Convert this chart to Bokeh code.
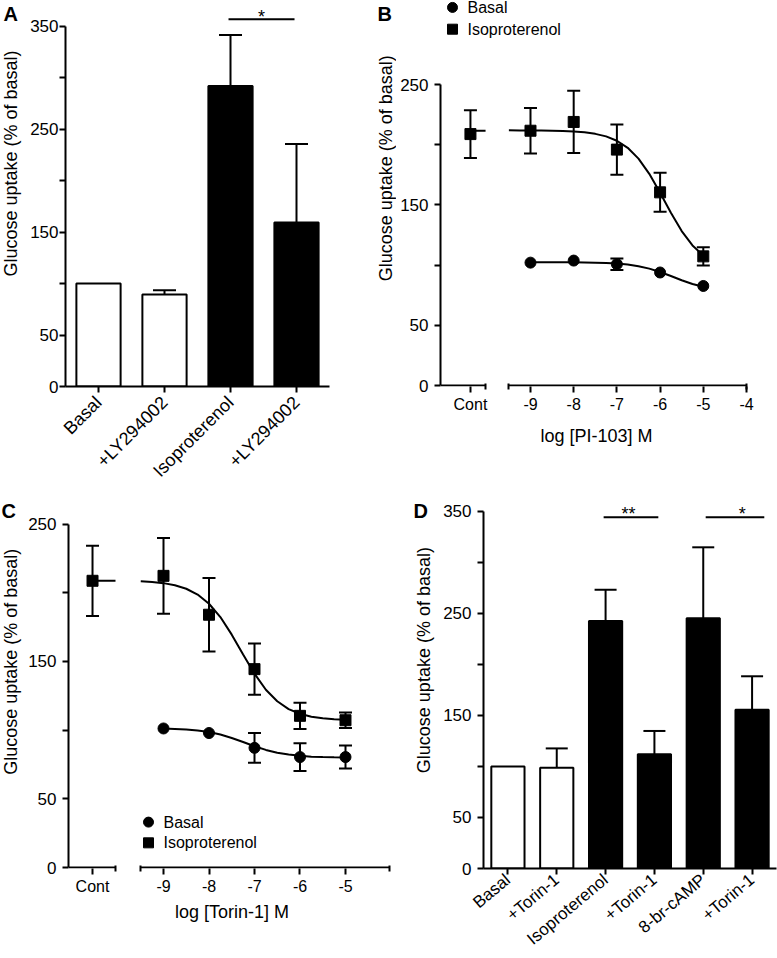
import math
from bokeh.plotting import figure
from bokeh.layouts import row, column
from bokeh.models import FixedTicker, Whisker, TeeHead, ColumnDataSource, Range1d
from bokeh.core.properties import value
from bokeh.embed import file_html
from bokeh.resources import INLINE

FONT = "Liberation Sans"

# ---------------- data ----------------
Y_TITLE = "Glucose uptake (% of basal)"
LEGEND_LABELS = ["Basal", "Isoproterenol"]

# Panel A
a_labels = ["Basal", "+LY294002", "Isoproterenol", "+LY294002"]
a_means = [100.0, 89.5, 292.0, 159.5]
a_sem = [0.0, 4.0, 49.6, 76.2]
a_colors = ["white", "white", "black", "black"]
a_sig = [(1.97, 2.97, 2.47, "*")]          # line from, line to, star x, text
a_yticks = [0, 50, 100, 150, 200, 250, 300, 350]
a_ytick_labels = ["0", "50", "", "150", "", "250", "", "350"]

# Panel B (PI-103)
b_doses = [-9, -8, -7, -6, -5]
b_basal = [102.1, 103.8, 100.8, 93.9, 82.7]
b_basal_sem = [0, 0, 4.8, 0, 0]
b_iso = [211.7, 219.0, 196.0, 160.5, 107.3]
b_iso_sem = [18.9, 25.9, 20.9, 16.2, 7.5]
b_cont_iso = 208.9
b_cont_iso_sem = 19.9
b_cont_fit = 211.7
fit_x_iso = [-9.5, -9.25, -9.0, -8.75, -8.5, -8.25, -8.0, -7.75, -7.5, -7.25,
             -7.0, -6.75, -6.5, -6.25, -6.0, -5.75, -5.5, -5.25, -5.0]
fit_x_basal = [-9.0, -8.75, -8.5, -8.25, -8.0, -7.75, -7.5, -7.25,
               -7.0, -6.75, -6.5, -6.25, -6.0, -5.75, -5.5, -5.25, -5.0]
b_fit_iso = [212.0, 211.9, 211.9, 211.8, 211.7, 211.5, 211.1, 210.4, 209.1, 207.0,
             203.4, 197.5, 188.5, 175.9, 160.2, 143.5, 128.3, 116.4, 108.1]
b_fit_basal = [102.5, 102.5, 102.5, 102.4, 102.4, 102.3, 102.1, 101.8,
               101.3, 100.5, 99.1, 97.1, 94.3, 91.0, 87.5, 84.4, 82.1]
b_xtick_vals = [-9, -8, -7, -6, -5, -4]
b_xtick_labels = ["Cont", "-9", "-8", "-7", "-6", "-5", "-4"]
b_xtitle = "log [PI-103] M"

# Panel C (Torin-1)
c_doses = [-9, -8, -7, -6, -5]
c_basal = [101.2, 97.9, 87.1, 80.4, 80.4]
c_basal_sem = [0, 0, 10.8, 10.1, 8.4]
c_iso = [212.3, 184.0, 144.4, 110.4, 107.2]
c_iso_sem = [27.6, 26.7, 18.6, 9.6, 5.6]
c_cont_iso = 208.7
c_cont_iso_sem = 25.6
c_cont_fit = 208.7
c_fit_iso = [208.4, 207.9, 207.0, 205.5, 202.9, 198.7, 192.0, 182.3, 169.5, 155.1,
             141.1, 129.4, 121.0, 115.3, 111.9, 109.8, 108.6, 107.9, 107.5]
c_fit_basal = [101.2, 100.9, 100.5, 99.7, 98.6, 96.8, 94.3, 91.4,
               88.3, 85.6, 83.6, 82.2, 81.3, 80.7, 80.4, 80.2, 80.1]
c_xtick_vals = [-9, -8, -7, -6, -5]
c_xtick_labels = ["Cont", "-9", "-8", "-7", "-6", "-5"]
c_xtitle = "log [Torin-1] M"

bc_yticks = [0, 50, 100, 150, 200, 250]
bc_ytick_labels = ["0", "50", "", "150", "", "250"]

# Panel D
d_labels = ["Basal", "+Torin-1", "Isoproterenol", "+Torin-1", "8-br-cAMP", "+Torin-1"]
d_means = [100.0, 98.7, 242.6, 111.9, 245.2, 155.5]
d_sem = [0.0, 19.0, 30.6, 22.9, 69.6, 32.9]
d_colors = ["white", "white", "black", "black", "black", "black"]
d_sig = [(1.96, 3.08, 2.47, "**"), (4.05, 5.25, 4.80, "*")]
d_yticks = a_yticks
d_ytick_labels = a_ytick_labels

# ---------------- layout (page pixels) ----------------
TOP_Y, TOP_H = 0, 490
BOT_Y, BOT_H = 490, 468


def make_fig(canvas, frame, xr, yr):
    cl, ct, w, h = canvas
    fl, fr, ft, fb = frame
    p = figure(width=w, height=h, x_range=Range1d(*xr), y_range=Range1d(*yr),
               output_backend="svg", toolbar_location=None,
               min_border_left=fl - cl, min_border_right=cl + w - fr,
               min_border_top=ft - ct, min_border_bottom=ct + h - fb)
    p.outline_line_color = None
    p.xgrid.visible = False
    p.ygrid.visible = False
    p.background_fill_color = "white"
    p.border_fill_color = "white"

    def gx(px):
        return xr[0] + (px - fl) * (xr[1] - xr[0]) / (fr - fl)

    def gy(py):
        return yr[0] + (fb - py) * (yr[1] - yr[0]) / (fb - ft)
    return p, gx, gy


def strip(w, h, letter, letter_xy, title_xy):
    """Narrow figure holding the panel letter and the rotated y-axis title."""
    p = figure(width=w, height=h, x_range=Range1d(0, w), y_range=Range1d(0, h),
               x_axis_type=None, y_axis_type=None, min_border=0,
               output_backend="svg", toolbar_location=None)
    p.outline_line_color = None
    p.background_fill_color = "white"
    p.border_fill_color = "white"
    p.text(x=[letter_xy[0]], y=[h - letter_xy[1]], text=[letter],
           text_font=value(FONT), text_font_size=value("20px"),
           text_font_style="bold", text_align="left", text_baseline="alphabetic",
           text_color="black")
    p.text(x=[title_xy[0]], y=[h - title_xy[1]], text=[Y_TITLE], angle=math.pi / 2,
           text_font=value(FONT), text_font_size=value("18px"), text_align="center",
           text_baseline="middle", text_color="black")
    return p


def style_axis(ax, size="17px", standoff=3):
    ax.axis_line_width = 2
    ax.axis_line_color = "black"
    ax.major_tick_line_width = 2
    ax.major_tick_line_color = "black"
    ax.major_tick_out = 6
    ax.major_tick_in = 0
    ax.minor_tick_line_color = None
    ax.major_label_text_font = FONT
    ax.major_label_text_font_size = size
    ax.major_label_text_color = "black"
    ax.major_label_standoff = standoff


def bar_panel(canvas, frame, xr, yr, labels, means, sem, colors, yticks, ylabels,
              sig, sig_y, star_y, bar_w, cap, xlab_size, xlab_standoff, xlab_angle,
              ylab_standoff):
    p, gx, gy = make_fig(canvas, frame, xr, yr)
    xs = list(range(len(labels)))
    p.vbar(x=xs, top=means, bottom=0, width=bar_w, fill_color=colors,
           line_color="black", line_width=2)
    ex = [x for x, s in zip(xs, sem) if s > 0]
    elo = [m for m, s in zip(means, sem) if s > 0]
    ehi = [m + s for m, s in zip(means, sem) if s > 0]
    src = ColumnDataSource(dict(x=ex, lower=elo, upper=ehi))
    p.add_layout(Whisker(source=src, base="x", lower="lower", upper="upper",
                         line_width=2, line_color="black", lower_head=None,
                         upper_head=TeeHead(size=cap, line_width=2, line_color="black")))
    for x0, x1, sx, t in sig:
        p.line([x0, x1], [sig_y, sig_y], line_width=2, color="black")
        p.text(x=[sx], y=[star_y], text=[t], text_font=value(FONT),
               text_font_size=value("18px"), text_align="center",
               text_baseline="alphabetic", text_color="black")
    style_axis(p.xaxis[0], xlab_size, xlab_standoff)
    style_axis(p.yaxis[0], "17px", ylab_standoff)
    p.xaxis[0].ticker = FixedTicker(ticks=xs)
    p.xaxis[0].major_label_overrides = {x: l for x, l in zip(xs, labels)}
    p.xaxis[0].major_label_orientation = xlab_angle
    p.yaxis[0].ticker = FixedTicker(ticks=yticks)
    p.yaxis[0].major_label_overrides = {t: l for t, l in zip(yticks, ylabels)}
    p.yaxis[0].bounds = (yticks[0], yticks[-1])
    return p


def dose_panel(canvas, frame, xr, yr, cont_x, seg1_end, seg2, doses, basal, basal_sem,
               iso, iso_sem, cont_iso, cont_sem, cont_fit, fit_iso, fit_basal,
               tick_vals, tick_labels, xtitle, xtitle_standoff, legend_xy):
    p, gx, gy = make_fig(canvas, frame, xr, yr)
    # broken x axis line
    p.segment(x0=[xr[0], seg2[0]], x1=[seg1_end, seg2[1]], y0=[0, 0], y1=[0, 0],
              line_width=2, color="black")
    # fitted curves
    p.line([cont_x, seg1_end], [cont_fit, cont_fit], line_width=2, color="black")
    p.line(fit_x_iso, fit_iso, line_width=2, color="black")
    p.line(fit_x_basal, fit_basal, line_width=2, color="black")
    # error bars
    wx, wl, wu = [], [], []
    for x, m, s in [(cont_x, cont_iso, cont_sem)] + list(zip(doses, iso, iso_sem)) + \
            list(zip(doses, basal, basal_sem)):
        if s > 0:
            wx.append(x); wl.append(m - s); wu.append(m + s)
    src = ColumnDataSource(dict(x=wx, lower=wl, upper=wu))
    p.add_layout(Whisker(source=src, base="x", lower="lower", upper="upper",
                         line_width=2, line_color="black",
                         lower_head=TeeHead(size=13, line_width=2, line_color="black"),
                         upper_head=TeeHead(size=13, line_width=2, line_color="black")))
    p.scatter(x=doses, y=basal, marker="circle", size=11, color="black")
    p.scatter(x=[cont_x] + doses, y=[cont_iso] + iso, marker="square", size=11,
              color="black")
    # legend
    lx, ly1, ly2, tx = legend_xy
    p.scatter(x=[gx(lx)], y=[gy(ly1)], marker="circle", size=10, color="black")
    p.scatter(x=[gx(lx)], y=[gy(ly2)], marker="square", size=10, color="black")
    p.text(x=[gx(tx), gx(tx)], y=[gy(ly1), gy(ly2)], text=LEGEND_LABELS,
           text_font=value(FONT), text_font_size=value("16px"), text_align="left",
           text_baseline="middle", text_color="black")
    # axes
    style_axis(p.xaxis[0], "16px", 3)
    style_axis(p.yaxis[0], "17px", 6)
    ticks = [cont_x] + tick_vals
    xa = p.xaxis[0]
    xa.axis_line_color = None
    xa.ticker = FixedTicker(ticks=ticks, minor_ticks=[seg1_end, seg2[0], seg2[1]])
    xa.major_label_overrides = {t: l for t, l in zip(ticks, tick_labels)}
    xa.minor_tick_line_color = "black"
    xa.minor_tick_line_width = 2
    xa.minor_tick_in = 3
    xa.minor_tick_out = 3
    xa.axis_label = xtitle
    xa.axis_label_text_font = FONT
    xa.axis_label_text_font_size = "18px"
    xa.axis_label_text_font_style = "normal"
    xa.axis_label_text_color = "black"
    xa.axis_label_standoff = xtitle_standoff
    ya = p.yaxis[0]
    ya.ticker = FixedTicker(ticks=bc_yticks)
    ya.major_label_overrides = {t: l for t, l in zip(bc_yticks, bc_ytick_labels)}
    ya.bounds = (bc_yticks[0], bc_yticks[-1])
    return p


sA = strip(22, TOP_H, "A", (3, 17), (10, 207))
pA = bar_panel((22, TOP_Y, 344, TOP_H), (65, 329, 0, 388), (-0.5, 3.5), (0, 388 / 1.0343),
               a_labels, a_means, a_sem, a_colors, a_yticks, a_ytick_labels,
               a_sig, 356.8, 358.7, 0.67, 23, "18px", 7, math.pi / 4, 1)

sB = strip(30, TOP_H, "B", (11, 17), (19, 213))
pB = dose_panel((396, TOP_Y, 381, TOP_H), (440, 752, 0, 390), (-11.083, -3.861),
                (-0.822, -0.822 + 390 / 1.216), -10.39, -10.04, (-9.5, -4.0),
                b_doses, b_basal, b_basal_sem, b_iso, b_iso_sem, b_cont_iso,
                b_cont_iso_sem, b_cont_fit, b_fit_iso, b_fit_basal,
                b_xtick_vals, b_xtick_labels, b_xtitle, 10, (452, 7, 29, 467))

sC = strip(22, BOT_H, "C", (1, 25), (10, 212))
pC = dose_panel((22, BOT_Y, 378, BOT_H), (68, 395, 490, 873), (-11.088, -3.901),
                (-0.718, -0.718 + 383 / 1.392), -10.56, -10.055, (-9.5, -4.03),
                c_doses, c_basal, c_basal_sem, c_iso, c_iso_sem, c_cont_iso,
                c_cont_iso_sem, c_cont_fit, c_fit_iso, c_fit_basal,
                c_xtick_vals, c_xtick_labels, c_xtitle, 4, (148, 826, 847, 163))

sD = strip(36, BOT_H, "D", (13, 25), (23, 210))
pD = bar_panel((436, BOT_Y, 341, BOT_H), (483, 776, 490, 870), (-0.5, 5.5),
               (0, 380 / 1.0257), d_labels, d_means, d_sem, d_colors, d_yticks,
               d_ytick_labels, d_sig, 344.2, 347.1, 0.68, 22, "17px", 3,
               math.radians(40), 6)

layout = column(row(sA, pA, sB, pB), row(sC, pC, sD, pD))
open("out.html", "w").write(file_html(layout, INLINE))
